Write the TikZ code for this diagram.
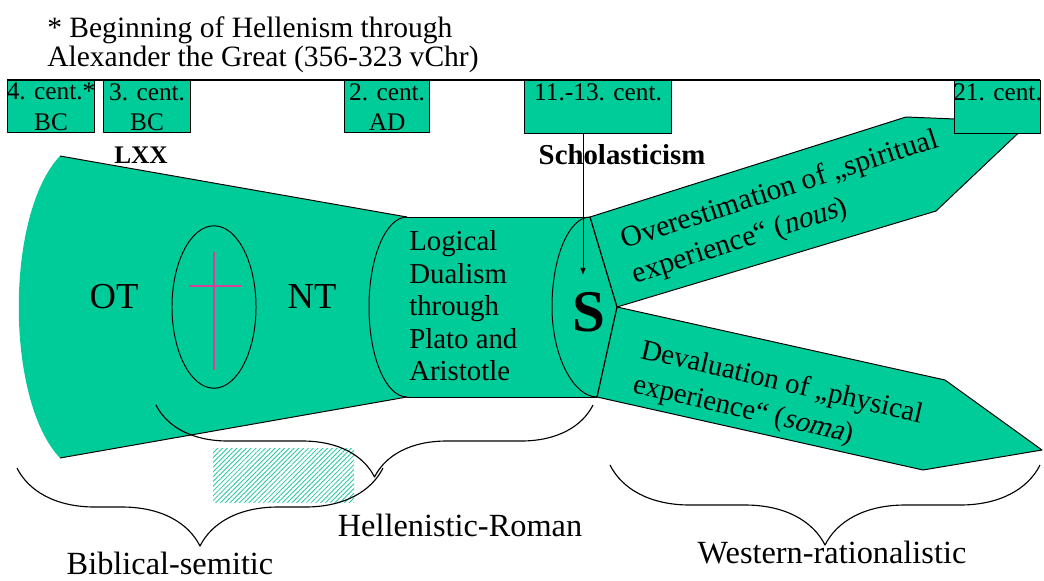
\documentclass[tikz,border=0pt]{standalone}
\usepackage{fontspec}
\setmainfont{Liberation Serif}
\newfontface\slfont{Liberation Serif}[FakeSlant=0.22]
\usetikzlibrary{decorations.pathreplacing,patterns.meta,arrows.meta}
\definecolor{mint}{RGB}{0,204,153}
\definecolor{crossc}{RGB}{214,64,150}
\definecolor{hatchc}{RGB}{40,200,160}
\newcommand{\fs}[2]{\fontsize{#1pt}{#2pt}\selectfont}
\begin{document}
\begin{tikzpicture}[x=0.025cm,y=-0.025cm,line join=round,
  outl/.style={draw=black,line width=0.7pt},
  period/.style={draw=black,fill=mint,line width=0.8pt,inner sep=0pt,anchor=north west},
  boxtxt/.style={font=\fs{18}{22},align=center,inner sep=0pt,anchor=north},
  plain/.style={inner sep=0pt},
  armtxt/.style={inner sep=0pt,anchor=north west,align=left},
  bracestyle/.style={draw=black,line width=0.8pt,decorate},
  lbl/.style={font=\fs{23}{24},inner sep=0pt}]
\useasboundingbox (0,0) rectangle (1044,580);

% header note
\node[plain,font=\fs{21}{20.6},align=left,anchor=north west] (note) at (47,16)
  {* Beginning of Hellenism through\\Alexander the Great (356-323 vChr)};

% funnel
\fill[mint] (60,156) -- (407,217) -- (407,397) -- (60,458)
  .. controls (5,400) and (5,214) .. (60,156) -- cycle;
\draw[outl] (60,156) -- (407,217);
\draw[outl] (60,458) -- (407,397);

% cylinder
\fill[mint] (407,217) -- (590,217) -- (617,307) -- (597,397) -- (407,397) -- cycle;
\draw[outl] (407,217) -- (590,217);
\draw[outl] (407,397) -- (597,397);
\draw[outl] (407,217) .. controls (386,217) and (369,257) .. (369,307)
  .. controls (369,357) and (386,397) .. (407,397);

% arms
\filldraw[fill=mint,outl] (590,217) -- (906,117) -- (1030,122) -- (936,211) -- (617,307) -- cycle;
\filldraw[fill=mint,outl] (617,307) -- (945,380) -- (1042,450) -- (923,470) -- (597,397) -- cycle;

% S lens
\draw[outl] (590,217) .. controls (569,217) and (552,257) .. (552,307)
  .. controls (552,357) and (574,397) .. (597,397);
\draw[outl] (590,217) -- (617,307) -- (597,397);

% cross in ellipse
\draw[outl] (214,307) ellipse [x radius=1.05cm, y radius=2.03cm];
\draw[crossc,line width=1.1pt] (214,252) -- (214,370);
\draw[crossc,line width=1.1pt] (189,286) -- (241,286);

% texts in body
\node[plain,font=\fs{26}{26}] (ot) at (114,297) {OT};
\node[plain,font=\fs{26}{26}] (nt) at (312,297) {NT};
\node[plain,font=\fs{20.5}{23.1},align=left,anchor=west] (logic) at (409,306)
  {Logical\\Dualism\\through\\Plato and\\Aristotle};
\node[plain,font=\fs{42}{42}\bfseries] (s) at (589,312) {S};
\node[armtxt,font=\fs{21}{25.6},rotate=18] (up) at (618,229)
  {Overestimation of „spiritual\\experience“ ({\slfont nous})};
\node[armtxt,font=\fs{20.5}{24.9},rotate=-13] (lo) at (644,338)
  {Devaluation of „physical\\experience“ ({\slfont soma})};

% period boxes
\draw[line width=0.8pt] (7,80) -- (1040,80);
\node[period,minimum width=87*0.025cm,minimum height=52*0.025cm] (b4) at (7,80) {};
\node[period,minimum width=87*0.025cm,minimum height=52*0.025cm] (b3) at (103,80) {};
\node[period,minimum width=85*0.025cm,minimum height=52*0.025cm] (b2) at (344,80) {};
\node[period,minimum width=147*0.025cm,minimum height=53*0.025cm] (b11) at (524,80) {};
\node[period,minimum width=86*0.025cm,minimum height=53*0.025cm] (b21) at (954,80) {};
\node[boxtxt] (t4) at ([yshift=-3*0.025cm]b4.north) {4. cent.*\\BC};
\node[boxtxt] (t3) at ([yshift=-3*0.025cm]b3.north) {3. cent.\\BC};
\node[boxtxt] (t2) at ([yshift=-3*0.025cm]b2.north) {2. cent.\\AD};
\node[boxtxt] (t11) at ([yshift=-3*0.025cm]b11.north) {11.-13. cent.};
\node[boxtxt] (t21) at ([yshift=-3*0.025cm]b21.north) {21. cent.};

% labels
\node[plain,font=\fs{18}{18}\bfseries] (lxx) at (141,155) {LXX};
\node[plain,font=\fs{20.5}{20.5}\bfseries] (schol) at (622,155) {Scholasticism};
\coordinate (arrtop) at (583,133);
\coordinate (arrend) at (583,275);
\draw[line width=0.6pt,-{Latex[length=5pt,width=4pt]}] (arrtop) -- (arrend);

% hatch
\path[pattern={Lines[angle=45,distance=2.4pt,line width=0.6pt]},pattern color=hatchc]
  (213,448) rectangle (354,502);

% braces
\coordinate (hrA) at (156,405); \coordinate (hrB) at (593,405);
\draw[bracestyle,decoration={brace,mirror,amplitude=1.8cm}] (hrA) -- (hrB);
\coordinate (bsA) at (17,468); \coordinate (bsB) at (383,468);
\draw[bracestyle,decoration={brace,mirror,amplitude=1.95cm}] (bsA) -- (bsB);
\coordinate (wrA) at (610,465); \coordinate (wrB) at (1040,465);
\draw[bracestyle,decoration={brace,mirror,amplitude=2.0cm}] (wrA) -- (wrB);

\node[lbl] (hr) at (460,525) {Hellenistic-Roman};
\node[lbl] (bs) at (170,563) {Biblical-semitic};
\node[lbl] (wr) at (832,553) {Western-rationalistic};
\end{tikzpicture}
\end{document}
